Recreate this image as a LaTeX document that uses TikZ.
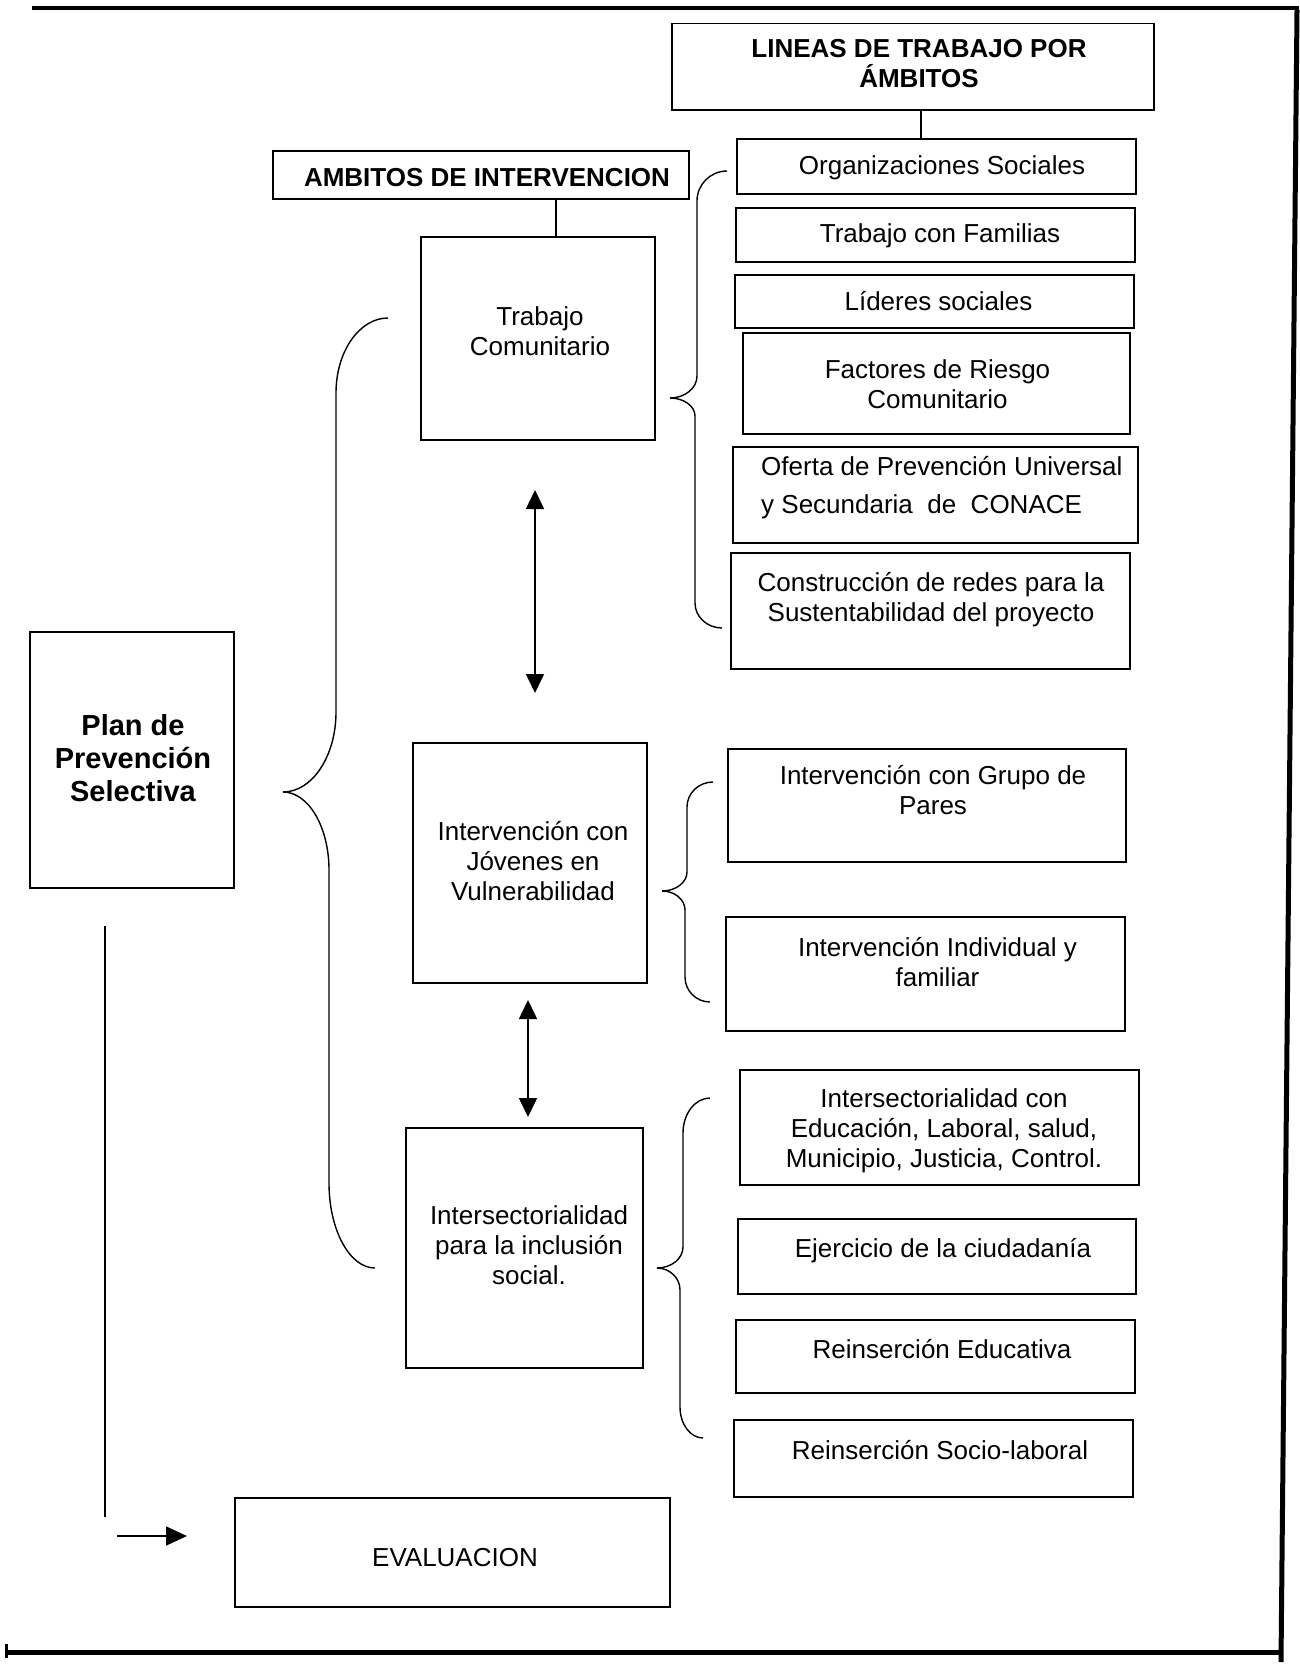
\documentclass[tikz,border=0pt]{standalone}
\usepackage{fontspec}
\setmainfont{Liberation Sans}
\usetikzlibrary{arrows.meta}
\tikzset{
  box/.style={draw, line width=1.6pt, inner sep=0pt, outer sep=0pt},
  txt/.style={inner sep=0pt, align=center, font=\fontsize{26}{30}\selectfont},
  head/.style={inner sep=0pt, align=center, font=\bfseries\fontsize{26}{30}\selectfont},
  planfont/.style={inner sep=0pt, align=center, font=\bfseries\fontsize{29}{33}\selectfont},
  brc/.style={line width=1.4pt},
  link/.style={line width=1.4pt},
  dbl/.style={line width=1.6pt, {Triangle[length=19pt,width=18pt]}-{Triangle[length=19pt,width=18pt]}},
  onearrow/.style={line width=1.6pt, -{Triangle[length=21pt,width=19pt]}},
  frame/.style={line width=5pt, line cap=butt},
}
% half of a curly brace: end (#1,#2), spine x=#3, end radius #4, tip (#5,#6), tip length #7
\newcommand{\halfbrace}[7]{\draw[brc] (#1,#2) .. controls ({#1-0.552*(#1-#3)},#2) and (#3,{#2+0.448*(#4)}) .. (#3,{#2+(#4)}) -- (#3,{#6-(#7)}) .. controls (#3,{#6-0.448*(#7)}) and ({#5+0.552*(#3-#5)},#6) .. (#5,#6);}
\begin{document}
\begin{tikzpicture}[x=1pt,y=-1pt]
\fill[white] (0,0) rectangle (1299,1672);
\useasboundingbox (0,0) rectangle (1299,1672);

% page frame (scan edges)
\draw[line width=4pt] (32,8) -- (1299,8);
\draw[frame] (1297,10) -- (1281,1662);
\draw[frame] (5,1652) -- (1283,1652);
\draw[line width=3pt] (6,1644) -- (6,1658);

% header boxes
\node[box, minimum width=482pt, minimum height=86.5pt] (lineas) at (913,66.75) {};
\node[head] (lineas-t) at (919,64) {LINEAS DE TRABAJO POR\\ÁMBITOS};
\node[box, minimum width=416pt, minimum height=48pt] (amb) at (481,175) {};
\node[head] (amb-t) at (487,178) {AMBITOS DE INTERVENCION};

% left: plan
\node[box, minimum width=204pt, minimum height=256pt] (plan) at (132,760) {};
\node[planfont] (plan-t) at (133,758) {Plan de\\Prevención\\Selectiva};

% middle column
\node[box, minimum width=234pt, minimum height=203pt] (tc) at (538,338.5) {};
\node[txt] (tc-t) at (540,331) {Trabajo\\Comunitario};
\node[box, minimum width=234pt, minimum height=240pt] (ijv) at (530,863) {};
\node[txt] (ijv-t) at (533,861) {Intervención con\\Jóvenes en\\Vulnerabilidad};
\node[box, minimum width=237pt, minimum height=240pt] (isis) at (524.5,1248) {};
\node[txt] (isis-t) at (529,1245) {Intersectorialidad\\para la inclusión\\social.};

% right column, group 1
\node[box, minimum width=399pt, minimum height=55pt] (org) at (936.5,166.5) {};
\node[txt] (org-t) at (942,168) {Organizaciones Sociales};
\node[box, minimum width=399pt, minimum height=54pt] (tf) at (935.5,235) {};
\node[txt] (tf-t) at (940,235.5) {Trabajo con Familias};
\node[box, minimum width=399pt, minimum height=53pt] (ls) at (934.5,301.5) {};
\node[txt] (ls-t) at (938.5,301) {Líderes sociales};
\node[box, minimum width=387pt, minimum height=101pt] (frc) at (936.5,383.5) {};
\node[txt] (frc-t) at (937.5,384) {Factores de Riesgo\\Comunitario};
\node[box, minimum width=405pt, minimum height=96pt] (ofe) at (935.5,495) {};
\node[txt, align=left, anchor=west] (ofe-t) at (761,488) {Oferta de Prevención Universal\\[8pt]y Secundaria\ \ de\ \ CONACE};
\node[box, minimum width=399pt, minimum height=116pt] (con) at (930.5,611) {};
\node[txt] (con-t) at (931,600) {Construcción de redes para la\\Sustentabilidad del proyecto};

% right column, group 2
\node[box, minimum width=398pt, minimum height=113pt] (igp) at (927,805.5) {};
\node[txt] (igp-t) at (933,790.5) {Intervención con Grupo de\\Pares};
\node[box, minimum width=399pt, minimum height=114pt] (iii) at (925.5,974) {};
\node[txt] (iii-t) at (937.5,962) {Intervención Individual y\\familiar};

% right column, group 3
\node[box, minimum width=399pt, minimum height=115pt] (ice) at (939.5,1127.5) {};
\node[txt] (ice-t) at (944,1131) {Intersectorialidad con\\Educación, Laboral, salud,\\Municipio, Justicia, Control.};
\node[box, minimum width=398pt, minimum height=75pt] (ec) at (937,1256.5) {};
\node[txt] (ec-t) at (943,1251) {Ejercicio de la ciudadanía};
\node[box, minimum width=399pt, minimum height=73pt] (re) at (935.5,1356.5) {};
\node[txt] (re-t) at (942,1349) {Reinserción Educativa};
\node[box, minimum width=399pt, minimum height=77pt] (rsl) at (933.5,1458.5) {};
\node[txt] (rsl-t) at (940,1450) {Reinserción Socio-laboral};

% evaluation
\node[box, minimum width=435pt, minimum height=109pt] (eval) at (452.5,1552.5) {};
\node[txt] (eval-t) at (455,1558) {EVALUACION};

% connectors
\draw[link] ([xshift=8pt]lineas.south) -- ([xshift=8pt]lineas.south |- org.north);
\draw[link] ([xshift=75pt]amb.south) -- ([xshift=75pt]amb.south |- tc.north);

\coordinate (d1a) at (535,490);
\coordinate (d1b) at (535,693);
\draw[dbl] (d1a) -- (d1b);
\coordinate (d2a) at (528,1000);
\coordinate (d2b) at (528,1117);
\draw[dbl] (d2a) -- (d2b);

\coordinate (vtop) at (105,926);
\coordinate (vbot) at (105,1517);
\draw[link] (vtop) -- (vbot);
\coordinate (ea) at (117,1536);
\draw[onearrow] (ea) -- ([xshift=-48pt]eval.west |- ea);

% braces
\halfbrace{727}{171}{697}{30}{670}{398}{22}
\halfbrace{722}{628}{695}{-25}{670}{398}{-18}
\halfbrace{713}{782}{687}{25}{662}{891}{19}
\halfbrace{710}{1002}{685}{-25}{662}{891}{-19}
\halfbrace{710}{1098}{683}{35}{657}{1268}{21}
\halfbrace{703}{1438}{680}{-31}{657}{1268}{-22}
\halfbrace{388}{318}{336}{75}{283}{792}{80}
\halfbrace{375}{1268}{329}{-85}{283}{792}{-78}
\end{tikzpicture}
\end{document}
